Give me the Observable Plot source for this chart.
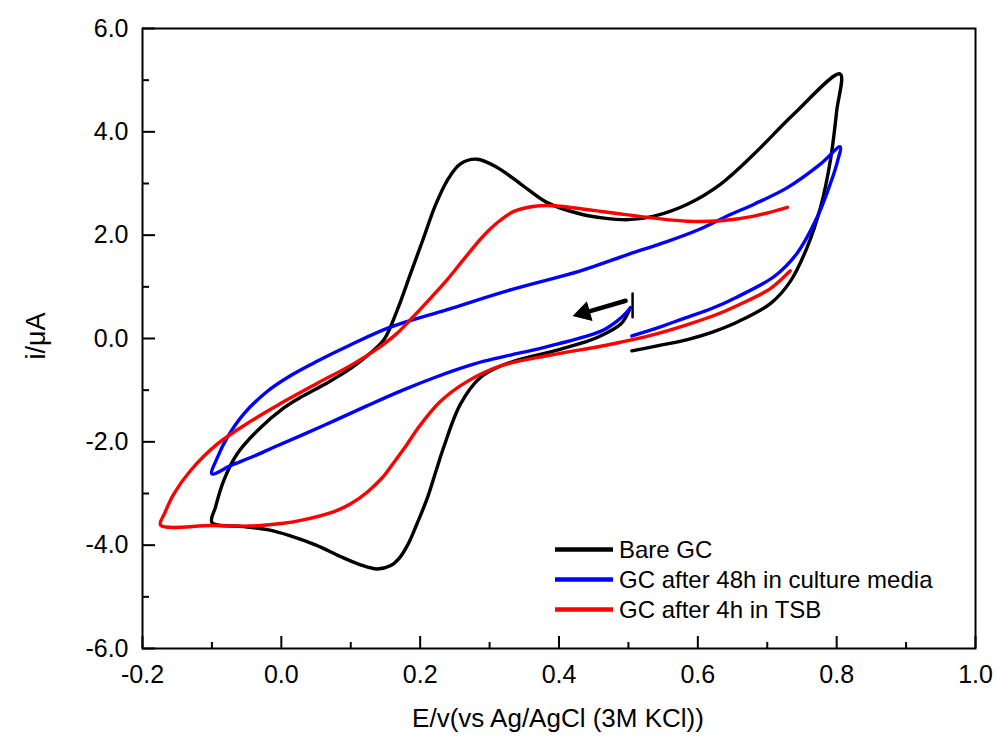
<!DOCTYPE html>
<html><head><meta charset="utf-8">
<script src="https://cdn.jsdelivr.net/npm/d3@7"></script>
<script src="https://cdn.jsdelivr.net/npm/@observablehq/plot@0.6"></script>
<style>
body{margin:0;background:#fff;}
#chart{width:997px;height:740px;}
</style>
</head><body><div id="chart"></div>
<script>
// ---- data ----
const seriesNames = ["Bare GC", "GC after 48h in culture media", "GC after 4h in TSB"];
const seriesColors = ["#000000", "#0000ff", "#ff0000"];

const bareE = [0.505,0.55,0.585,0.62,0.657,0.705,0.733,0.757,0.777,0.791,0.8,0.805,
  0.738,0.681,0.633,0.585,0.537,0.5,0.465,0.431,0.383,0.345,0.311,0.282,0.258,0.24,0.222,0.205,0.186,0.167,0.148,0.125,0.1,0.066,0.03,0.004,-0.035,-0.064,-0.083,-0.095,-0.1,
  -0.054,-0.02,0.013,0.05,0.085,0.114,0.138,0.157,0.17,0.183,0.195,0.21,0.222,0.234,0.258,0.287,0.311,0.345,0.388,0.425,0.455,0.489,0.501];
const bareI = [-0.24,-0.12,-0.02,0.12,0.32,0.68,1.1,1.75,2.55,3.45,4.4,5.12,
  4.34,3.57,2.99,2.6,2.37,2.3,2.33,2.41,2.63,2.99,3.31,3.47,3.38,3.08,2.58,1.95,1.25,0.55,-0.02,-0.32,-0.58,-0.86,-1.12,-1.34,-1.79,-2.24,-2.75,-3.27,-3.56,
  -3.64,-3.7,-3.82,-4.0,-4.22,-4.38,-4.46,-4.4,-4.25,-3.97,-3.6,-3.1,-2.6,-2.1,-1.27,-0.75,-0.56,-0.4,-0.26,-0.12,0.02,0.28,0.54];

const mediaE = [0.505,0.545,0.582,0.62,0.656,0.71,0.743,0.772,0.791,0.801,0.805,
  0.777,0.729,0.681,0.647,0.6,0.55,0.5,0.431,0.335,0.239,0.157,0.1,0.05,0.013,-0.02,-0.054,-0.078,-0.092,-0.1,
  -0.073,-0.04,-0.01,0.028,0.075,0.124,0.175,0.22,0.26,0.292,0.33,0.364,0.4,0.436,0.465,0.484,0.497,0.503];
const mediaI = [0.05,0.22,0.4,0.58,0.8,1.2,1.65,2.35,3.0,3.42,3.71,
  3.38,2.92,2.6,2.4,2.1,1.85,1.63,1.31,0.96,0.56,0.22,-0.12,-0.45,-0.72,-1.02,-1.46,-1.92,-2.3,-2.62,
  -2.46,-2.28,-2.1,-1.88,-1.6,-1.3,-1.0,-0.76,-0.57,-0.44,-0.32,-0.22,-0.1,0.03,0.17,0.34,0.5,0.6];

const tsbE = [0.729,0.681,0.633,0.585,0.537,0.489,0.455,0.42,0.393,0.365,0.335,0.311,0.29,0.265,0.239,0.215,0.19,0.165,0.14,0.1,0.05,0.0,-0.044,-0.092,-0.131,-0.155,-0.168,-0.174,
  -0.1,-0.044,0.0,0.028,0.076,0.1,0.124,0.145,0.162,0.18,0.196,0.229,0.268,0.316,0.388,0.46,0.489,0.532,0.585,0.628,0.657,0.705,0.733];
const tsbI = [2.54,2.37,2.28,2.27,2.33,2.41,2.47,2.53,2.57,2.56,2.46,2.24,1.97,1.57,1.14,0.78,0.42,0.08,-0.18,-0.52,-0.88,-1.25,-1.6,-2.04,-2.56,-3.01,-3.38,-3.61,
  -3.62,-3.63,-3.58,-3.52,-3.35,-3.2,-2.97,-2.7,-2.4,-2.07,-1.75,-1.22,-0.83,-0.53,-0.32,-0.15,-0.07,0.06,0.27,0.47,0.64,0.97,1.31];

// scan-direction annotation
const arrowFrom = [0.496, 0.73];
const arrowTo = [0.44, 0.51];
const arrowHead = [0.436, 0.497];
const startMarkE = [0.506, 0.506];
const startMarkI = [0.41, 0.87];

const xMajor = [-0.2, 0.0, 0.2, 0.4, 0.6, 0.8, 1.0];
const xMinor = [-0.1, 0.1, 0.3, 0.5, 0.7, 0.9];
const yMajor = [-6, -4, -2, 0, 2, 4, 6];
const yMinor = [-5, -3, -1, 1, 3, 5];
const xTitle = "E/v(vs Ag/AgCl (3M KCl))";
const yTitle = "i/\u03bcA";

// ---- build table ----
const rows = [];
[[bareE, bareI], [mediaE, mediaI], [tsbE, tsbI]].forEach(([es, is], k) => {
  es.forEach((e, j) => rows.push({E: e, I: is[j], series: seriesNames[k]}));
});
const startMark = startMarkE.map((e, j) => ({E: e, I: startMarkI[j]}));
const fmt = d => (Math.abs(d) < 1e-9 ? 0 : d).toFixed(1);
const FONT = "Liberation Sans, Arial, Helvetica, sans-serif";

const svg = Plot.plot({
  width: 997, height: 740,
  marginLeft: 142, marginRight: 22, marginTop: 28, marginBottom: 92,
  style: {fontFamily: FONT, color: "black", background: "white"},
  x: {domain: [-0.2, 1.0]},
  y: {domain: [-6, 6]},
  color: {domain: seriesNames, range: seriesColors},
  marks: [
    Plot.line(rows, {x: "E", y: "I", z: "series", stroke: "series", strokeWidth: 3.4, curve: "catmull-rom"}),
    Plot.line(startMark, {x: "E", y: "I", stroke: "black", strokeWidth: 2.5}),
    Plot.link([{x1: arrowFrom[0], y1: arrowFrom[1], x2: arrowTo[0], y2: arrowTo[1]}],
      {x1: "x1", y1: "y1", x2: "x2", y2: "y2", stroke: "black", strokeWidth: 4.5, strokeLinecap: "round"}),
    Plot.dot([{x: arrowHead[0], y: arrowHead[1]}], {x: "x", y: "y", symbol: "triangle", r: 7, fill: "black", stroke: "black", strokeWidth: 1, rotate: -106}),
    Plot.frame({stroke: "black", strokeWidth: 2}),
    Plot.axisX(xMajor, {tickSize: 0, tickPadding: 17, fontSize: 25, tickFormat: fmt, label: null}),
    Plot.axisX(xMajor, {tickSize: -12, fill: "none", tickFormat: () => "", strokeWidth: 2, label: null}),
    Plot.axisX(xMinor, {tickSize: -6, fill: "none", tickFormat: () => "", strokeWidth: 2, label: null}),
    Plot.axisY(yMajor, {tickSize: 0, tickPadding: 14, fontSize: 25, tickFormat: fmt, label: null}),
    Plot.axisY(yMajor, {tickSize: -13, fill: "none", tickFormat: () => "", strokeWidth: 2, label: null}),
    Plot.axisY(yMinor, {tickSize: -7, fill: "none", tickFormat: () => "", strokeWidth: 2, label: null})
  ]
});

const s = d3.select(svg);
// axis titles
s.append("text").attr("x", 558).attr("y", 727).attr("text-anchor", "middle")
  .attr("font-size", 26).attr("font-family", FONT).attr("fill", "black").text(xTitle);
s.append("text").attr("transform", "translate(45,336) rotate(-90)").attr("text-anchor", "middle")
  .attr("font-size", 27).attr("font-family", FONT).attr("fill", "black").text(yTitle);
// legend
const lg = s.append("g").attr("font-family", FONT).attr("font-size", 24).attr("text-anchor", "start");
seriesNames.forEach((name, k) => {
  const y = 549.5 + k * 30;
  lg.append("line").attr("x1", 555).attr("x2", 613).attr("y1", y).attr("y2", y)
    .attr("stroke", seriesColors[k]).attr("stroke-width", 4.5);
  lg.append("text").attr("x", 619).attr("y", y).attr("dy", "0.36em").attr("fill", "black").text(name);
});
document.getElementById("chart").appendChild(svg);
</script>
</body></html>
